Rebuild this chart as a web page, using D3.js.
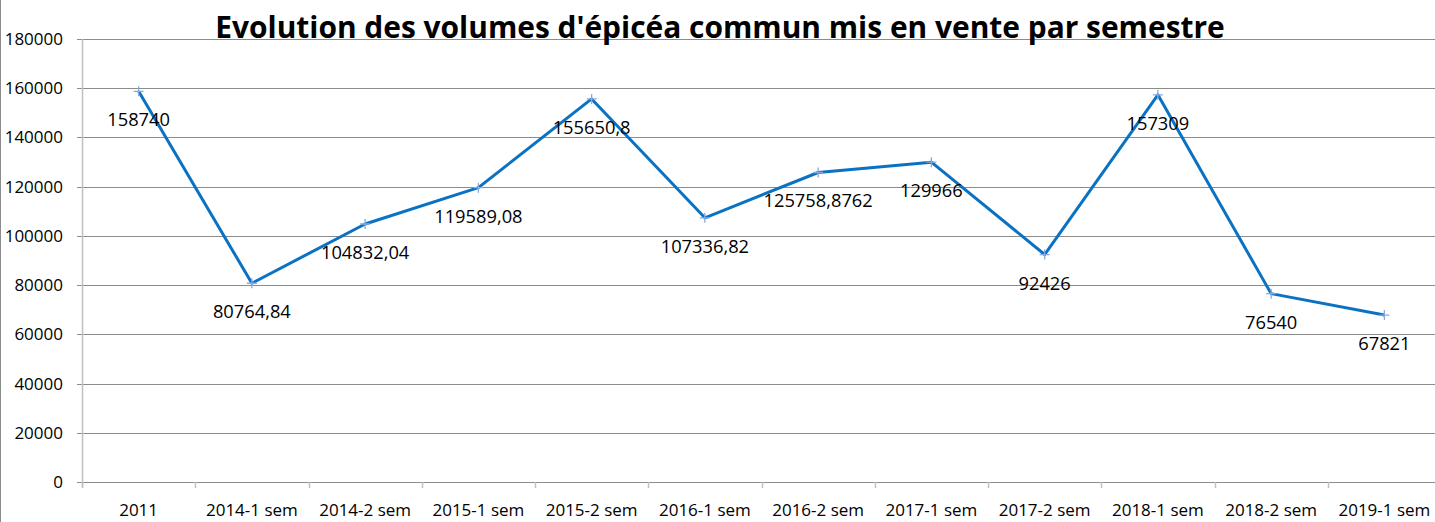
<!DOCTYPE html>
<html>
<head>
<meta charset="utf-8">
<script src="https://cdn.jsdelivr.net/npm/d3@7"></script>
<style>
  body { margin: 0; background: #fff; }
  text { font-family: "Open Sans", sans-serif; fill: #000; }
</style>
</head>
<body>
<div id="chart"></div>
<script>
let w = 1435;
let h = 522;
let margin = {top: 39, right: -6, bottom: 40, left: 82};

const chartTitle = "Evolution des volumes d'épicéa commun mis en vente par semestre";
const periods = ['2011', '2014-1 sem', '2014-2 sem', '2015-1 sem', '2015-2 sem', '2016-1 sem',
    '2016-2 sem', '2017-1 sem', '2017-2 sem', '2018-1 sem', '2018-2 sem', '2019-1 sem'];
const volumes = [158740, 80764.84, 104832.04, 119589.08, 155650.8, 107336.82,
    125758.8762, 129966, 92426, 157309, 76540, 67821];
const volumeLabels = ['158740', '80764,84', '104832,04', '119589,08', '155650,8', '107336,82',
    '125758,8762', '129966', '92426', '157309', '76540', '67821'];
const yTicks = [0, 20000, 40000, 60000, 80000, 100000, 120000, 140000, 160000, 180000];

const data = periods.map((p, i) => ({period: p, value: volumes[i], label: volumeLabels[i]}));

let svg = d3.select('#chart')
    .append('svg')
    .attr('width', w)
    .attr('height', h);

let xScale = d3.scaleBand()
    .domain(periods)
    .range([margin.left, w - margin.right]);

let yScale = d3.scaleLinear()
    .domain([0, 180000])
    .range([h - margin.bottom, margin.top]);

// gridlines
svg.append('g')
    .selectAll('line')
    .data(yTicks)
    .enter()
    .append('line')
    .attr('x1', margin.left - 5)
    .attr('x2', w)
    .attr('y1', d => Math.round(yScale(d)) + 0.5)
    .attr('y2', d => Math.round(yScale(d)) + 0.5)
    .attr('stroke', '#8c8c8c')
    .attr('stroke-width', 1);

// y axis labels
svg.append('g')
    .selectAll('text')
    .data(yTicks)
    .enter()
    .append('text')
    .attr('x', 63)
    .attr('y', d => yScale(d))
    .attr('dy', '0.35em')
    .attr('text-anchor', 'end')
    .style('font-size', '17px')
    .text(d => d);

// y axis line
svg.append('line')
    .attr('x1', margin.left + 0.5)
    .attr('x2', margin.left + 0.5)
    .attr('y1', yScale(180000))
    .attr('y2', yScale(0) + 5)
    .attr('stroke', '#c0c0c0')
    .attr('stroke-width', 1.5);

// x axis category ticks (between categories)
svg.append('g')
    .selectAll('line')
    .data(periods)
    .enter()
    .append('line')
    .attr('x1', d => Math.round(xScale(d)) + 0.5)
    .attr('x2', d => Math.round(xScale(d)) + 0.5)
    .attr('y1', yScale(0))
    .attr('y2', yScale(0) + 6)
    .attr('stroke', '#c0c0c0')
    .attr('stroke-width', 1.5);

svg.append('g')
    .selectAll('text')
    .data(periods)
    .enter()
    .append('text')
    .attr('x', d => xScale(d) + xScale.bandwidth() / 2)
    .attr('y', 516)
    .attr('text-anchor', 'middle')
    .style('font-size', '17px')
    .text(d => d);

// left border of the chart area
svg.append('line')
    .attr('x1', 0.5).attr('x2', 0.5)
    .attr('y1', 0).attr('y2', h)
    .attr('stroke', '#8c8c8c');

let cx = d => xScale(d.period) + xScale.bandwidth() / 2;

svg.append('path')
    .datum(data)
    .attr('d', d3.line()
        .x(cx)
        .y(d => yScale(d.value))
    )
    .attr('stroke', '#0a72c2')
    .style('stroke-width', 3)
    .style('stroke-linejoin', 'round')
    .style('fill', 'none');

// plus markers
svg.append('g')
    .selectAll('path')
    .data(data)
    .enter()
    .append('path')
    .attr('d', d => {
        let x = cx(d), y = yScale(d.value);
        return `M${x - 5},${y}H${x + 5}M${x},${y - 5}V${y + 5}`;
    })
    .attr('stroke', '#86a9de')
    .attr('stroke-width', 1.3);

// data labels below points
svg.append('g')
    .selectAll('text')
    .data(data)
    .enter()
    .append('text')
    .attr('x', cx)
    .attr('y', d => yScale(d.value) + 35)
    .attr('text-anchor', 'middle')
    .style('font-size', '18.3px')
    .text(d => d.label);

let title = svg.append('text')
    .attr('x', 720)
    .attr('y', 38)
    .attr('text-anchor', 'middle')
    .style('font-weight', 'bold')
    .style('font-size', '32px')
    .text(chartTitle);

// fit title width to the reference (~1010px)
let tw = title.node().getComputedTextLength();
title.style('font-size', (32 * 1010 / tw) + 'px');
</script>
</body>
</html>
